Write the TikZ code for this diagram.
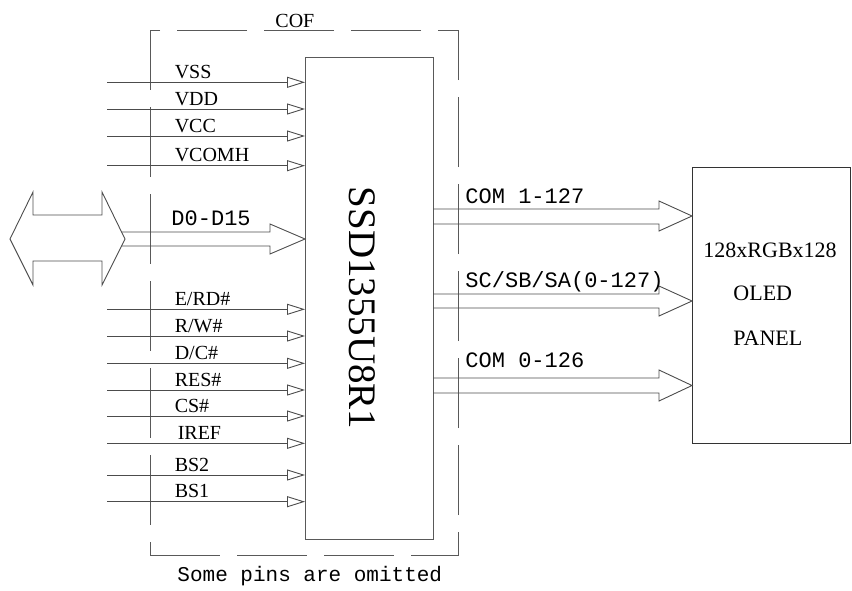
\documentclass[tikz,border=0pt]{standalone}
\usepackage{fontspec}
\setmainfont{Liberation Serif}
\newfontfamily\letraMono{Liberation Mono}
\usetikzlibrary{arrows.meta,calc}

\begin{document}
\begin{tikzpicture}[x=1pt, y=-1pt, line width=0.9pt, >={Triangle[open,length=18pt,width=11pt]}]
    % Definición de estilos
    \tikzstyle{nodoChip} = [draw=black!65, rectangle, minimum width=128pt, minimum height=482pt, inner sep=0pt, outer sep=0pt]
    \tikzstyle{nodoPanel} = [draw=black!80, rectangle, minimum width=158pt, minimum height=276pt, inner sep=0pt, outer sep=0pt]
    \tikzstyle{nodoCof} = [draw=black!65, rectangle, dash pattern=on 70pt off 17pt, minimum width=308pt, minimum height=525pt, inner sep=0pt]
    \tikzstyle{lineaPin} = [draw=black!70, ->]
    \tikzstyle{lineaBus} = [draw=black!70]
    \tikzstyle{etiqPin} = [pos=0.34, anchor=base west, inner sep=0pt, yshift=4pt, font=\fontsize{20}{20}\selectfont]
    \tikzstyle{etiqBus} = [anchor=base west, inner sep=0pt, font=\letraMono\fontsize{22}{22}\selectfont]
    \tikzstyle{etiqPanel} = [anchor=base west, inner sep=0pt, font=\fontsize{22}{22}\selectfont]

    \useasboundingbox (0,0) rectangle (852,590);

    % Bloques
    \node[nodoCof] (cofBox) at (304,292.5) {};
    \node[anchor=base west, inner sep=0pt, font=\fontsize{20}{20}\selectfont] (etiqCof) at (275,27) {COF};
    \node[nodoChip] (chipSSD) at (369,298) {};
    \node[rotate=-90, inner sep=0pt, font=\fontsize{39}{39}\selectfont] (nombreChip) at (362,308) {SSD1355U8R1};
    \node[nodoPanel] (panelOLED) at (771,305) {};
    \node[etiqPanel] (panelRes) at (703,257) {128xRGBx128};
    \node[etiqPanel] (panelOled) at (733,300) {OLED};
    \node[etiqPanel] (panelTxt) at (733,345) {PANEL};

    % Pines de entrada
    \coordinate (pinVSS) at (107,82.3);
    \coordinate (pinVDD) at (107,109);
    \coordinate (pinVCC) at (107,136);
    \coordinate (pinVCOMH) at (107,165.7);
    \coordinate (pinERD) at (107,309.3);
    \coordinate (pinRW) at (107,336);
    \coordinate (pinDC) at (107,363.3);
    \coordinate (pinRES) at (107,390);
    \coordinate (pinCS) at (107,416);
    \coordinate (pinIREF) at (107,443.3);
    \coordinate (pinBS2) at (107,475);
    \coordinate (pinBS1) at (107,501.7);
    \draw[lineaPin] (pinVSS) -- (pinVSS -| chipSSD.west) node[etiqPin] (eVSS) {VSS};
    \draw[lineaPin] (pinVDD) -- (pinVDD -| chipSSD.west) node[etiqPin] (eVDD) {VDD};
    \draw[lineaPin] (pinVCC) -- (pinVCC -| chipSSD.west) node[etiqPin] (eVCC) {VCC};
    \draw[lineaPin] (pinVCOMH) -- (pinVCOMH -| chipSSD.west) node[etiqPin] (eVCOMH) {VCOMH};
    \draw[lineaPin] (pinERD) -- (pinERD -| chipSSD.west) node[etiqPin] (eERD) {E/RD\#};
    \draw[lineaPin] (pinRW) -- (pinRW -| chipSSD.west) node[etiqPin] (eRW) {R/W\#};
    \draw[lineaPin] (pinDC) -- (pinDC -| chipSSD.west) node[etiqPin] (eDC) {D/C\#};
    \draw[lineaPin] (pinRES) -- (pinRES -| chipSSD.west) node[etiqPin] (eRES) {RES\#};
    \draw[lineaPin] (pinCS) -- (pinCS -| chipSSD.west) node[etiqPin] (eCS) {CS\#};
    \draw[lineaPin] (pinIREF) -- (pinIREF -| chipSSD.west) node[etiqPin, xshift=3pt] (eIREF) {IREF};
    \draw[lineaPin] (pinBS2) -- (pinBS2 -| chipSSD.west) node[etiqPin] (eBS2) {BS2};
    \draw[lineaPin] (pinBS1) -- (pinBS1 -| chipSSD.west) node[etiqPin] (eBS1) {BS1};

    % Bus de datos
    \draw[lineaBus] (10,239) -- (33,192) -- (33,215) -- (102,215) -- (102,192) -- (125,239) coordinate (busDatos)
        -- (102,285) -- (102,261) -- (33,261) -- (33,285) -- cycle;
    \draw[lineaBus] ($(busDatos)+(-3.5,-7)$) -- (270,232) -- (270,224) -- (chipSSD.west |- busDatos)
        -- (270,254) -- (270,246) -- ($(busDatos)+(-3.5,7)$);
    \node[etiqBus] (eDatos) at (171,225) {D0-D15};

    % Buses de salida
    \draw[lineaBus] (chipSSD.east |- 0,209) -- (659,209) -- (659,201) -- (panelOLED.west |- 0,216) -- (659,231) -- (659,224) -- (chipSSD.east |- 0,224);
    \draw[lineaBus] (chipSSD.east |- 0,294) -- (659,294) -- (659,286) -- (panelOLED.west |- 0,301) -- (659,316) -- (659,308) -- (chipSSD.east |- 0,308);
    \draw[lineaBus] (chipSSD.east |- 0,378) -- (659,378) -- (659,370) -- (panelOLED.west |- 0,385.5) -- (659,401) -- (659,393) -- (chipSSD.east |- 0,393);
    \node[etiqBus] (eCom1) at (465,203) {COM 1-127};
    \node[etiqBus] (eSeg) at (465,287) {SC/SB/SA(0-127)};
    \node[etiqBus] (eCom0) at (465,367) {COM 0-126};

    \node[anchor=base west, inner sep=0pt, font=\letraMono\fontsize{21}{21}\selectfont] (notaPines) at (177,581) {Some pins are omitted};
\end{tikzpicture}
\end{document}
